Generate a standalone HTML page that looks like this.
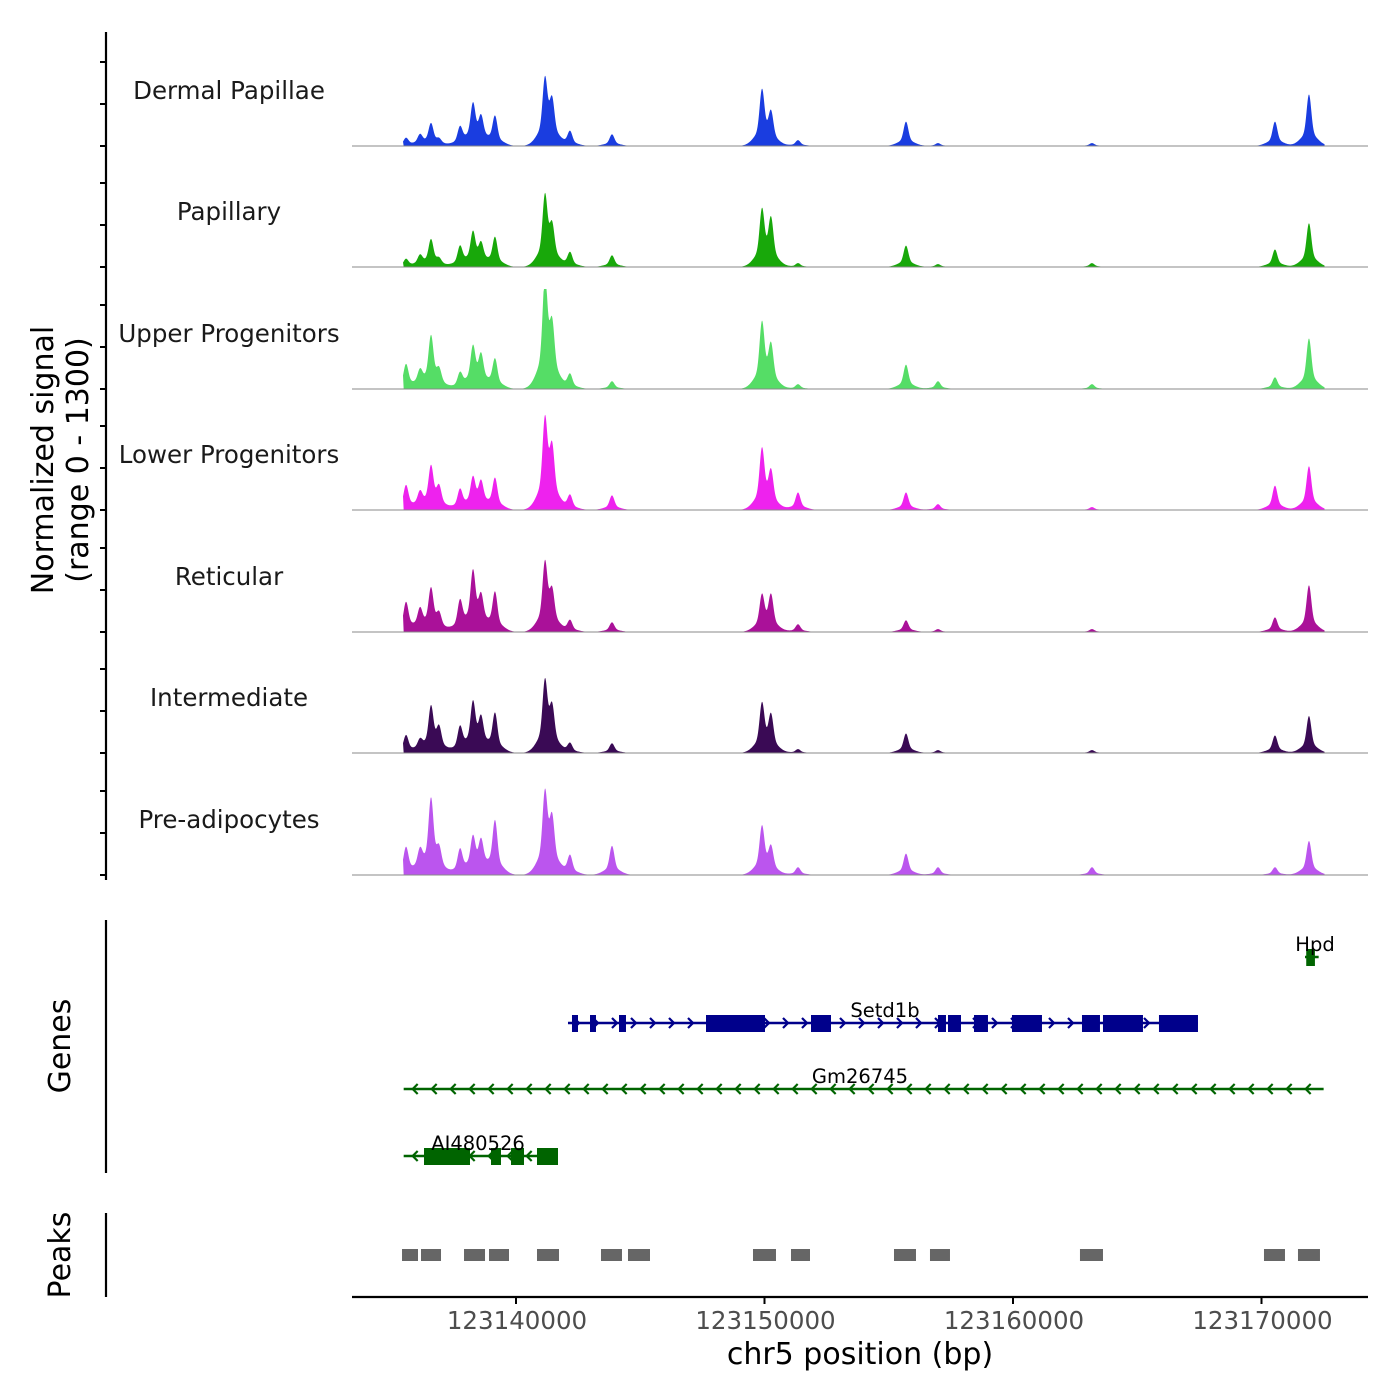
<!DOCTYPE html>
<html><head><meta charset="utf-8"><style>
html,body{margin:0;padding:0;background:#fff;}
svg{display:block;font-family:"DejaVu Sans","Liberation Sans",sans-serif;}
</style></head><body>
<svg id="chart" width="1400" height="1400" viewBox="0 0 1400 1400">
<g id="tracks"></g>
<g id="axes"></g>
<g id="genes"></g>
<g id="peaks"></g>
</svg>
<script>
// ---- data ----
const trackNames = ["Dermal Papillae","Papillary","Upper Progenitors","Lower Progenitors","Reticular","Intermediate","Pre-adipocytes"];
const trackColors = ["#1a3de0","#18a80a","#55dd66","#ee22ee","#aa1199","#3a0a55","#bb55ee"];
const peakPositions = [123135574,123136137,123136580,123136902,123137747,123138270,123138592,123139155,123141167,123141449,123142173,123143863,123149899,123150261,123151348,123155694,123156981,123163178,123170542,123171910];
const sigDermal   = [88,110,242,55,198,440,275,330,715,440,165,132,605,330,66,275,33,33,275,583];
const sigPapillary= [88,110,297,66,220,363,220,330,770,385,165,132,605,495,44,242,33,44,198,495];
const sigUpper    = [275,165,572,165,165,440,330,330,1188,605,165,88,715,440,55,275,88,55,132,572];
const sigLower    = [275,165,462,220,220,330,275,352,968,605,165,165,660,385,198,198,66,33,275,495];
const sigReticular= [330,220,462,165,330,638,330,440,748,385,132,110,385,385,88,132,33,33,165,528];
const sigInter    = [198,110,495,242,275,528,330,440,770,440,110,110,528,385,44,220,33,33,198,418];
const sigPre      = [308,220,825,220,275,385,330,605,880,550,220,330,528,275,88,242,88,88,88,385];
const trackSignals = [sigDermal,sigPapillary,sigUpper,sigLower,sigReticular,sigInter,sigPre];
const xTicks = [123140000,123150000,123160000,123170000];
const peakStarts = [123135413,123136177,123137908,123138914,123140845,123143420,123144507,123149537,123151066,123155211,123156659,123162695,123170100,123171468];
const peakEnds   = [123136056,123136982,123138753,123139718,123141730,123144265,123145392,123150462,123151831,123156096,123157464,123163621,123170945,123172353];
const setd1bExonStart=[123142253,123142978,123144145,123147646,123151871,123156981,123157384,123158430,123159959,123162776,123163621,123165874];
const setd1bExonEnd  =[123142495,123143219,123144426,123150020,123152676,123157303,123157907,123158993,123161166,123163500,123165230,123167444];
const aiExonStart=[123136298,123138994,123139799,123140845];
const aiExonEnd  =[123138149,123139396,123140322,123141690];
// ---- scales ----
const X0=123140000, PX0=516, PXPER=248.5/10000;
const xs = bp => PX0 + (bp - X0)*PXPER;
const baselines=[146,267,389,510,632,753,875];
const yScale = v => v*100/1300;
const NS="http://www.w3.org/2000/svg";
function mk(tag, attrs, parent){const e=document.createElementNS(NS,tag);for(const k in attrs)e.setAttribute(k,attrs[k]);parent.appendChild(e);return e;}
const tracks=document.getElementById('tracks');
const dataStart=123135480, dataEnd=123172540;
trackNames.forEach((name,t)=>{
  const base=baselines[t];
  const g=mk('g',{},tracks);
  
  
  const lab=mk('text',{x:229,y:base-47,'text-anchor':'middle','font-size':24.5,fill:'#1a1a1a'},g);
  lab.textContent=name;
  
  
  const xa=xs(dataStart), xb=xs(dataEnd);
  let d='M'+xa+','+base;
  for(let px=Math.floor(xa);px<=xb;px+=0.5){
    let v=0;
    peakPositions.forEach((p,i)=>{const dx=px-xs(p);const h=trackSignals[t][i];
      v+=h*0.85*Math.exp(-(dx/3.2)*(dx/3.2))+h*0.3*Math.exp(-(dx/11)*(dx/11));});
    v=Math.min(v,1300);
    d+=' L'+px+','+(base-yScale(v)).toFixed(2);
  }
  d+=' L'+xb+','+base+' Z';
  const a=mk('path',{d:d,fill:trackColors[t]},g);
  
  
  const bl=mk('line',{x1:352,x2:1368,y1:base,y2:base,stroke:'#888','stroke-width':1},g);
  
  
});
// axes
const axes=document.getElementById('axes');
const la=mk('line',{x1:106,x2:106,y1:32,y2:880,stroke:'#000','stroke-width':2.2},axes);


baselines.forEach(b=>{[0,42,84].forEach(o=>{
  const tk=mk('line',{x1:100,x2:106,y1:b-o,y2:b-o,stroke:'#000','stroke-width':2},axes);
  
  
});});
const yt=mk('text',{transform:'translate(53,460) rotate(-90)','text-anchor':'middle','font-size':30,fill:'#000'},axes);
yt.innerHTML='<tspan x="0" dy="0">Normalized signal</tspan><tspan x="0" dy="35">(range 0 - 1300)</tspan>';


const ga=mk('line',{x1:106,x2:106,y1:920,y2:1173,stroke:'#000','stroke-width':2.2},axes);


const gt=mk('text',{transform:'translate(70,1046) rotate(-90)','text-anchor':'middle','font-size':30},axes);
gt.textContent='Genes';


const pa=mk('line',{x1:106,x2:106,y1:1213,y2:1297,stroke:'#000','stroke-width':2.2},axes);


const pt=mk('text',{transform:'translate(70,1255) rotate(-90)','text-anchor':'middle','font-size':30},axes);
pt.textContent='Peaks';


const xa=mk('line',{x1:352,x2:1368,y1:1297,y2:1297,stroke:'#000','stroke-width':2.2},axes);


xTicks.forEach(v=>{
  const tk=mk('line',{x1:xs(v),x2:xs(v),y1:1297,y2:1304,stroke:'#000','stroke-width':2},axes);
  
  
  const tl=mk('text',{x:xs(v)+1,y:1329,'text-anchor':'middle','font-size':24.5,fill:'#4d4d4d'},axes);
  tl.textContent=String(v);
  
  
});
const xt=mk('text',{x:860,y:1364,'text-anchor':'middle','font-size':30},axes);
xt.textContent='chr5 position (bp)';


// genes
const genes=document.getElementById('genes');
function arrows(g,x1,x2,y,dir,col,step){
  for(let x=x1+10;x<x2-4;x+=step){
    const p=dir>0?`M${x-4},${y-5} L${x+1},${y} L${x-4},${y+5}`:`M${x+4},${y-5} L${x-1},${y} L${x+4},${y+5}`;
    mk('path',{d:p,fill:'none',stroke:col,'stroke-width':2.2},g);
  }
}
function gene(name,s,e,y,dir,col,es,ee,lx,ly,step){
  const g=mk('g',{},genes);
  
  
  mk('line',{x1:xs(s),x2:xs(e),y1:y,y2:y,stroke:col,'stroke-width':2.5},g);
  arrows(g,xs(s),xs(e),y,dir,col,step);
  for(let i=0;i<es.length;i++) mk('rect',{x:xs(es[i]),y:y-8,width:Math.max(2,xs(ee[i])-xs(es[i])),height:17,fill:col},g);
  const t=mk('text',{x:lx,y:ly,'text-anchor':'middle','font-size':19.5,fill:'#000'},g);
  t.textContent=name;
}
gene('Setd1b',123142092,123167444,1023,1,'#00008b',setd1bExonStart,setd1bExonEnd,885,1017,19);
gene('Gm26745',123135480,123172500,1089,-1,'#006400',[],[],860,1083,19);
gene('AI480526',123135480,123141690,1156,-1,'#006400',aiExonStart,aiExonEnd,478,1150,19);
gene('Hpd',123171750,123172300,957,-1,'#006400',[123171800],[123172150],1315,951,40);
// peaks
const peaks=document.getElementById('peaks');
peakStarts.forEach((s,i)=>{
  const r=mk('rect',{x:xs(s),y:1249,width:xs(peakEnds[i])-xs(s),height:12,fill:'#666'},peaks);
  
  
});
</script>
</body></html>
